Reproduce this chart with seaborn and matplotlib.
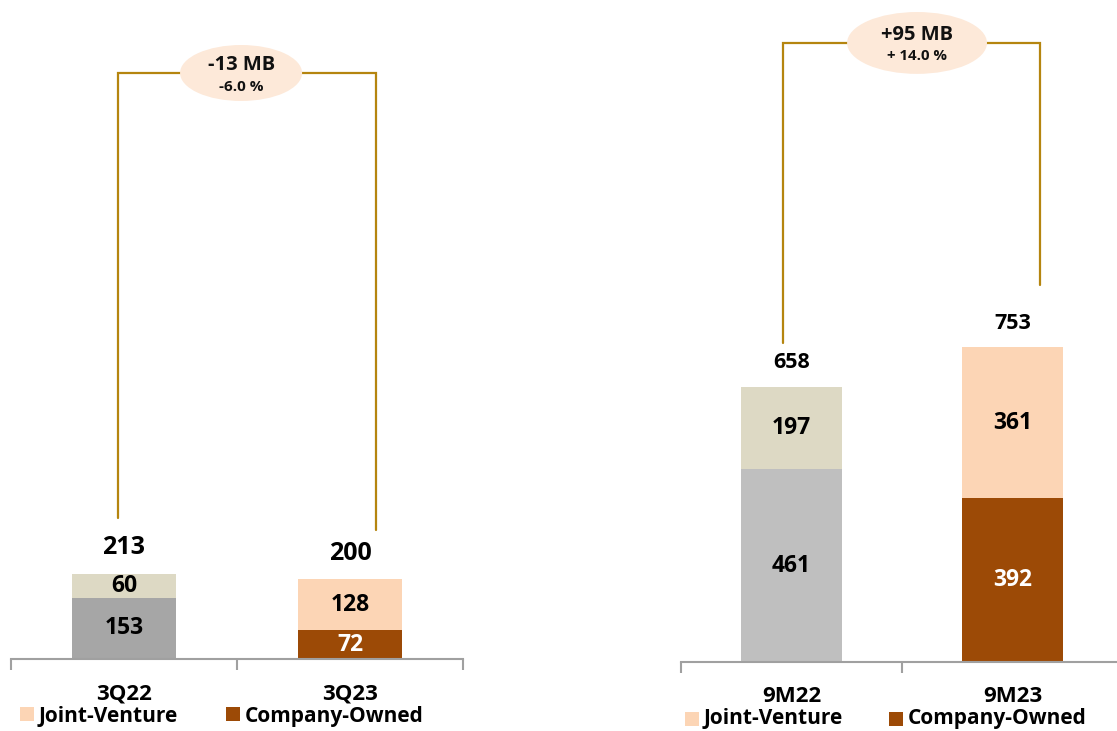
import matplotlib
matplotlib.use("Agg")
import matplotlib.pyplot as plt
import seaborn as sns
import pandas as pd
from matplotlib.patches import Ellipse, Rectangle

sns.set_theme(style="white")
plt.rcParams['font.family'] = ['Open Sans', 'DejaVu Sans']
plt.rcParams['font.weight'] = 'bold'

# ---- data ----
q_cats = ["3Q22", "3Q23"]
q_bottom = [153, 72]
q_top = [60, 128]
q_total = [213, 200]
q_change = "-13 MB"
q_pct = "-6.0 %"

m_cats = ["9M22", "9M23"]
m_bottom = [461, 392]
m_top = [197, 361]
m_total = [658, 753]
m_change = "+95 MB"
m_pct = "+ 14.0 %"

legend_labels = ["Joint-Venture", "Company-Owned"]

JV = "#FCD5B5"
CO = "#9C4A06"
BRACKET = "#B5850F"
ELL = "#FDE9D9"

W, H = 1117, 731
fig = plt.figure(figsize=(W / 100, H / 100), dpi=100)


def panel(x0, spacing, base_y, ppu, cats, bottom, top, total,
          bot_colors, top_colors, bot_text, fs_total, fs_seg, tot_off,
          bracket, ell, change, pct, fs_ch, fs_pct, ch_off, pct_off):
    width_px = spacing * 2
    ax = fig.add_axes([x0 / W, (H - base_y) / H, width_px / W, base_y / H])
    df = pd.DataFrame({"cat": cats, "bottom": bottom, "top": top, "total": total})
    sns.barplot(data=df, x="cat", y="total", hue="cat", palette=top_colors,
                legend=False, width=0.46, ax=ax, saturation=1, linewidth=0)
    sns.barplot(data=df, x="cat", y="bottom", hue="cat", palette=bot_colors,
                legend=False, width=0.46, ax=ax, saturation=1, linewidth=0)
    ax.set_xlim(-0.5, 1.5)
    ax.set_ylim(0, base_y / ppu)
    ax.set_xlabel("")
    ax.set_ylabel("")
    ax.set_yticks([])
    for s in ["top", "left", "right"]:
        ax.spines[s].set_visible(False)
    ax.spines["bottom"].set_color("#A0A0A0")
    ax.spines["bottom"].set_linewidth(1.5)
    ax.set_xticks([0, 1])
    ax.set_xticklabels(cats, fontsize=16, fontweight="bold", color="black")
    ax.tick_params(axis="x", which="major", length=0, pad=25)
    plt.setp(ax.get_xticklabels(), va="center")
    ax.set_xticks([-0.5, 0.5, 1.5], minor=True)
    ax.tick_params(axis="x", which="minor", bottom=True, length=8, width=1.5,
                   color="#A0A0A0", direction="out")
    for i in range(2):
        ax.text(i, bottom[i] / 2, str(bottom[i]), ha="center", va="center",
                fontsize=fs_seg, fontweight="bold", color=bot_text[i])
        ax.text(i, bottom[i] + top[i] / 2, str(top[i]), ha="center", va="center",
                fontsize=fs_seg, fontweight="bold", color="black")
        ax.text(i, total[i] + tot_off / ppu, str(total[i]), ha="center",
                va="center", fontsize=fs_total, fontweight="bold", color="black")
    (xl, yl), (xr, yr), ytop = bracket
    ax.plot([xl, xl, xr, xr], [yl, ytop, ytop, yr], color=BRACKET, lw=1.6,
            solid_joinstyle="miter", zorder=3)
    (ex, ew, eh) = ell
    e = Ellipse((ex, ytop), ew, eh, facecolor=ELL, edgecolor="none", zorder=4,
                clip_on=False)
    ax.add_patch(e)
    ax.text(ex, ytop + ch_off / ppu, change, ha="center", va="center",
            fontsize=fs_ch, fontweight="bold", zorder=5, color="#111111")
    ax.text(ex, ytop - pct_off / ppu, pct, ha="center", va="center",
            fontsize=fs_pct, fontweight="bold", zorder=5, color="#111111")
    return ax


# left panel
panel(11, 226, 659, 0.4, q_cats, q_bottom, q_top, q_total,
      ["#A6A6A6", CO], ["#DDD9C4", JV], ["black", "white"], 18, 16.5, 26,
      ((-0.027, 352), (1.115, 322), 1465), (0.518, 0.54, 140),
      q_change, q_pct, 14.5, 11, 8, 14)

# right panel
panel(681, 221, 662, 0.418, m_cats, m_bottom, m_top, m_total,
      ["#BFBFBF", CO], ["#DDD9C4", JV], ["black", "white"], 15.5, 16.5, 24,
      ((-0.038, 763), (1.124, 902), 1481), (0.568, 0.633, 148),
      m_change, m_pct, 14.5, 10.8, 8, 13)

# legends (manual, figure pixel positions)
def legend_item(x, y, base, color, label):
    fig.patches.append(Rectangle((x / W, (H - y - 14) / H), 14 / W, 14 / H,
                                 facecolor=color, edgecolor="none",
                                 transform=fig.transFigure, figure=fig))
    fig.text((x + 19) / W, (H - base) / H, label, ha="left", va="baseline",
             fontsize=15, fontweight="bold", color="black")

legend_item(20, 707, 722, JV, legend_labels[0])
legend_item(226, 707, 722, CO, legend_labels[1])
legend_item(685, 712, 724, JV, legend_labels[0])
legend_item(889, 712, 724, CO, legend_labels[1])

fig.savefig("out.png", dpi=100)
